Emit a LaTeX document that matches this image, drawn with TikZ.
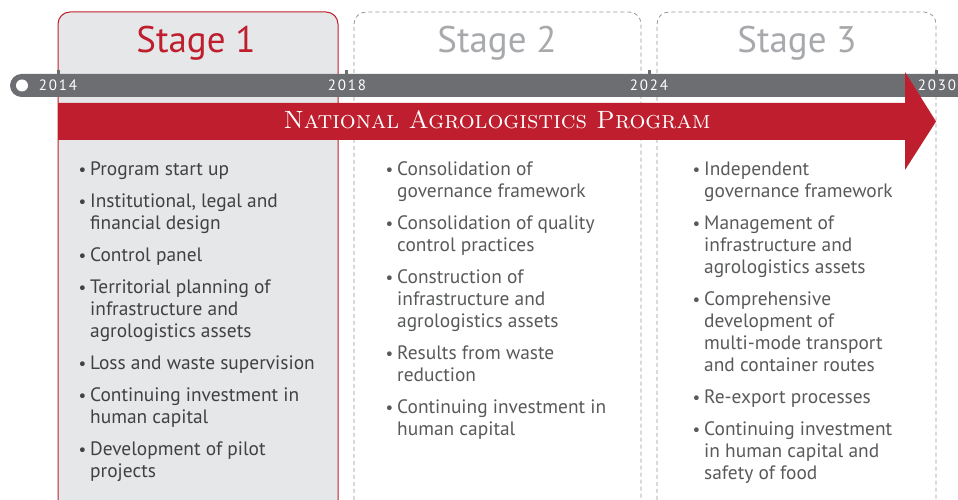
\documentclass[tikz,border=0pt]{standalone}
\usepackage{fontspec}
\newfontfamily\bodyfont{PT Sans}
\newfontfamily\yearfont[LetterSpace=12]{PT Sans}

\definecolor{agred}{HTML}{BE1E2D}
\definecolor{bargray}{HTML}{6D6E71}
\definecolor{boxgray}{HTML}{E6E7E8}
\definecolor{dashgray}{HTML}{939598}
\definecolor{titlegray}{HTML}{A7A9AC}
\definecolor{textdark}{HTML}{414042}
\definecolor{textgray}{HTML}{58595B}

% punto elenco sporgente a sinistra
\newcommand{\itm}{\llap{{\fontsize{17}{17}\selectfont\textbullet}\hspace{4pt}}}

\tikzset{
  stagetitle/.style={font=\bodyfont\fontsize{37}{40}\selectfont, anchor=base, inner sep=0pt},
  yearlabel/.style={font=\yearfont\fontsize{15}{15}\selectfont, text=white, anchor=base, inner sep=0pt},
  itemlist/.style={font=\bodyfont\fontsize{19.4}{22}\selectfont, align=left, anchor=north west, inner sep=0pt},
  yeartick/.style={fill=bargray},
  pendingbox/.style={draw=dashgray, dash pattern=on 4pt off 3pt, line width=0.8pt, rounded corners=12pt}
}

\begin{document}
\begin{tikzpicture}[x=1pt, y=1pt]

        \useasboundingbox (0,0) rectangle (958,500);

        % =========================================
        % === RIQUADRI DELLE FASI ===
        % =========================================
        \draw[fill=boxgray, draw=agred, line width=1pt, rounded corners=12pt] (58,-12) rectangle (338,488);
        \draw[pendingbox] (354,-12) rectangle (641,488);
        \draw[pendingbox] (657,-12) rectangle (936,488);

        % Titoli delle fasi
        \node[stagetitle, text=agred] (st1) at (196, 447) {Stage 1};
        \node[stagetitle, text=titlegray] (st2) at (497, 447) {Stage 2};
        \node[stagetitle, text=titlegray] (st3) at (797, 447) {Stage 3};

        % =========================================
        % === LINEA DEL TEMPO ===
        % =========================================
        \fill[bargray, rounded corners=11.5pt] (10,403) rectangle (980,426);
        \fill[white] (22,414.5) circle (6pt);

        % Tacche degli anni
        \fill[yeartick] (56.5,424) rectangle (59.5,430);
        \fill[yeartick] (344.5,424) rectangle (347.5,430);
        \fill[yeartick] (647.5,424) rectangle (650.5,430);
        \fill[yeartick] (934.5,424) rectangle (937.5,430);

        \node[yearlabel] (y2014) at (58, 409) {2014};
        \node[yearlabel] (y2018) at (347, 409) {2018};
        \node[yearlabel] (y2024) at (649, 409) {2024};
        \node[yearlabel] (y2030) at (937, 409) {2030};

        % Freccia del programma
        \fill[agred] (58,397) -- (905,397) -- (905,428) -- (936,378.5)
                     -- (905,330) -- (905,360) -- (58,360) -- cycle;
        \node[font=\fontsize{25}{25}\selectfont\scshape, text=white, anchor=base, inner sep=0pt] (prog) at (497, 371)
            {National Agrologistics Program};

        % =========================================
        % === ATTIVITA' PER FASE ===
        % =========================================
        \node[itemlist, text=textdark] (list1) at (90, 340.4) {%
            \strut\itm Program start up\\[10pt]
            \itm Institutional, legal and\\ financial design\\[10pt]
            \itm Control panel\\[10pt]
            \itm Territorial planning of\\ infrastructure and\\ agrologistics assets\\[10pt]
            \itm Loss and waste supervision\\[10pt]
            \itm Continuing investment in\\ human capital\\[10pt]
            \itm Development of pilot\\ projects};

        \node[itemlist, text=textgray] (list2) at (397, 340.4) {%
            \strut\itm Consolidation of\\ governance framework\\[10pt]
            \itm Consolidation of quality\\ control practices\\[10pt]
            \itm Construction of\\ infrastructure and\\ agrologistics assets\\[10pt]
            \itm Results from waste\\ reduction\\[10pt]
            \itm Continuing investment in\\ human capital};

        \node[itemlist, text=textgray] (list3) at (704, 340.4) {%
            \strut\itm Independent\\ governance framework\\[10pt]
            \itm Management of\\ infrastructure and\\ agrologistics assets\\[10pt]
            \itm Comprehensive\\ development of\\ multi-mode transport\\ and container routes\\[10pt]
            \itm Re-export processes\\[10pt]
            \itm Continuing investment\\ in human capital and\\ safety of food};

\end{tikzpicture}
\end{document}
